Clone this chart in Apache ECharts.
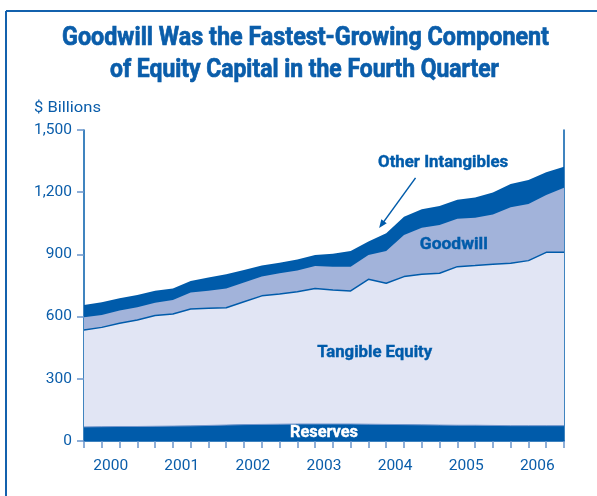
<!DOCTYPE html>
<html>
<head>
<meta charset="utf-8">
<script src="https://cdn.jsdelivr.net/npm/echarts@6/dist/echarts.min.js"></script>
<style>
html,body{margin:0;padding:0;background:#fff;}
#c{width:597px;height:496px;}
</style>
</head>
<body>
<div id="c"></div>
<script>
// Quarterly data, 2000Q1 - 2006Q4 ($ Billions)
const years = ['2000','2001','2002','2003','2004','2005','2006'];
const reserves = [68,69,70,70,71,72,73,75,77,79,80,81,82,82,82,82,81,80,79,78,77,76,76,75,74,74,74,74];
const tangibleEquity = [467,479,498,514,534,541,564,565,566,593,620,628,638,654,646,642,699,681,714,726,732,765,770,777,783,796,836,836];
const goodwill = [62,60,61,61,62,67,79,85,93,92,93,100,102,108,113,117,117,155,201,225,233,231,231,241,270,273,277,312];
const otherIntangibles = [59,61,59,59,58,56,56,63,68,61,53,51,54,53,62,75,65,86,88,89,92,91,97,105,113,116,109,101];
const yTicks = [0,300,600,900,1200,1500];

const DARK = '#005BAA';
const MID = '#A2B3DA';
const LIGHT = '#E1E5F4';
const TEXT = '#0A5DAA';
const FONT = 'Roboto, "Liberation Sans", sans-serif';

const n = reserves.length;
const idx = reserves.map((_, i) => i);
const yearCenters = years.map((_, k) => k * 4 + 1.5);

// cumulative stack tops, drawn back-to-front
const cum = (...arrs) => idx.map(i => arrs.reduce((s, a) => s + a[i], 0));
const topReserves = cum(reserves);
const topTangible = cum(reserves, tangibleEquity);
const topGoodwill = cum(reserves, tangibleEquity, goodwill);
const topOther = cum(reserves, tangibleEquity, goodwill, otherIntangibles);
const pairs = arr => arr.map((v, i) => [i, v]);

const chart = echarts.init(document.getElementById('c'), null, {renderer: 'canvas'});

function areaSeries(name, data, color, z, line) {
  return {
    name: name, type: 'line', data: pairs(data),
    symbol: 'none', smooth: false,
    lineStyle: line || {width: 0},
    areaStyle: {color: color, opacity: 1, origin: 'start'},
    itemStyle: {color: color},
    z: z
  };
}

chart.setOption({
  animation: false,
  grid: {left: 84, right: 33, top: 130, bottom: 55, containLabel: false},
  xAxis: {
    type: 'value', min: 0, max: n - 1, interval: 1,
    axisLine: {show: true, lineStyle: {color: DARK, width: 1.5}},
    axisTick: {show: true, length: 7, lineStyle: {color: '#6A95CC', width: 1.5}, customValues: idx},
    axisLabel: {
      customValues: yearCenters,
      formatter: v => years[Math.round((v - 1.5) / 4)] || '',
      fontFamily: FONT, fontSize: 15.5, color: TEXT, margin: 17
    },
    splitLine: {show: false}
  },
  yAxis: [{
    type: 'value', min: 0, max: 1500, interval: 300,
    axisLine: {show: true, lineStyle: {color: DARK, width: 1.5}},
    axisTick: {show: true, length: 7, lineStyle: {color: '#6A95CC', width: 1.5}},
    axisLabel: {
      fontFamily: FONT, fontSize: 15.5, color: TEXT, margin: 12,
      formatter: v => yTicks.indexOf(v) >= 0 ? v.toLocaleString('en-US') : ''
    },
    splitLine: {show: false}
  }, {
    type: 'value', min: 0, max: 1500, position: 'right',
    axisLine: {show: true, lineStyle: {color: DARK, width: 1.5}},
    axisTick: {show: false}, axisLabel: {show: false}, splitLine: {show: false}
  }],
  series: [
    areaSeries('Other Intangibles', topOther, DARK, 1),
    areaSeries('Goodwill', topGoodwill, MID, 2),
    areaSeries('Tangible Equity', topTangible, LIGHT, 3, {width: 1.5, color: DARK}),
    areaSeries('Reserves', topReserves, DARK, 4, {width: 1, color: '#7396CC'})
  ]
});

// condensed-looking text: measure and squeeze horizontally to a target width
const mctx = document.createElement('canvas').getContext('2d');
function squeezed(text, x, y, size, weight, color, targetW, align, boldStroke) {
  mctx.font = weight + ' ' + size + 'px ' + FONT;
  const w = mctx.measureText(text).width;
  const s = targetW / w;
  const style = {text: text, align: align || 'center', verticalAlign: 'middle',
    fontFamily: FONT, fontWeight: weight, fontSize: size, fill: color};
  if (boldStroke) { style.stroke = color; style.lineWidth = boldStroke; }
  return {type: 'text', x: x, y: y, scaleX: s, z: 10, silent: true, style: style};
}

function px(x, y) { return chart.convertToPixel({gridIndex: 0}, [x, y]); }
const pRes = px(13.5, 42), pTan = px(16.35, 428), pGw = px(20.8, 945), pOth = px(20.2, 1341);
const a0 = px(18.65, 1269), a1 = px(16.6, 1027);
const ang = Math.atan2(a1[1] - a0[1], a1[0] - a0[0]);
const hl = 9, hw = 0.38;
chart.setOption({
  graphic: [
    {type: 'line', shape: {x1: 6, y1: 11, x2: 597, y2: 11}, style: {stroke: '#1361AD', lineWidth: 2}, silent: true},
    {type: 'line', shape: {x1: 6, y1: 11, x2: 6, y2: 496}, style: {stroke: '#1361AD', lineWidth: 2}, silent: true},
    squeezed('Goodwill Was the Fastest-Growing Component', 305.5, 39, 25.5, 'bold', TEXT, 487, 'center', 0.7),
    squeezed('of Equity Capital in the Fourth Quarter', 304.5, 71, 25.5, 'bold', TEXT, 389, 'center', 0.7),
    squeezed('$ Billions', 34, 108, 15.5, 'normal', TEXT, 67, 'left'),
    squeezed('Reserves', pRes[0], pRes[1], 17, 'bold', '#ffffff', 68, 'center', 0.4),
    squeezed('Tangible Equity', pTan[0], pTan[1], 17, 'bold', DARK, 115, 'center', 0.4),
    squeezed('Goodwill', pGw[0], pGw[1], 17, 'bold', DARK, 68, 'center', 0.4),
    squeezed('Other Intangibles', pOth[0], pOth[1], 17, 'bold', DARK, 130, 'center', 0.4),
    {type: 'line', shape: {x1: a0[0], y1: a0[1], x2: a1[0] - Math.cos(ang) * 4, y2: a1[1] - Math.sin(ang) * 4}, style: {stroke: DARK, lineWidth: 1.5}, z: 10},
    {type: 'polygon', shape: {points: [
      [a1[0], a1[1]],
      [a1[0] - hl * Math.cos(ang - hw), a1[1] - hl * Math.sin(ang - hw)],
      [a1[0] - hl * Math.cos(ang + hw), a1[1] - hl * Math.sin(ang + hw)]
    ]}, style: {fill: DARK}, z: 10}
  ]
});
</script>
</body>
</html>
